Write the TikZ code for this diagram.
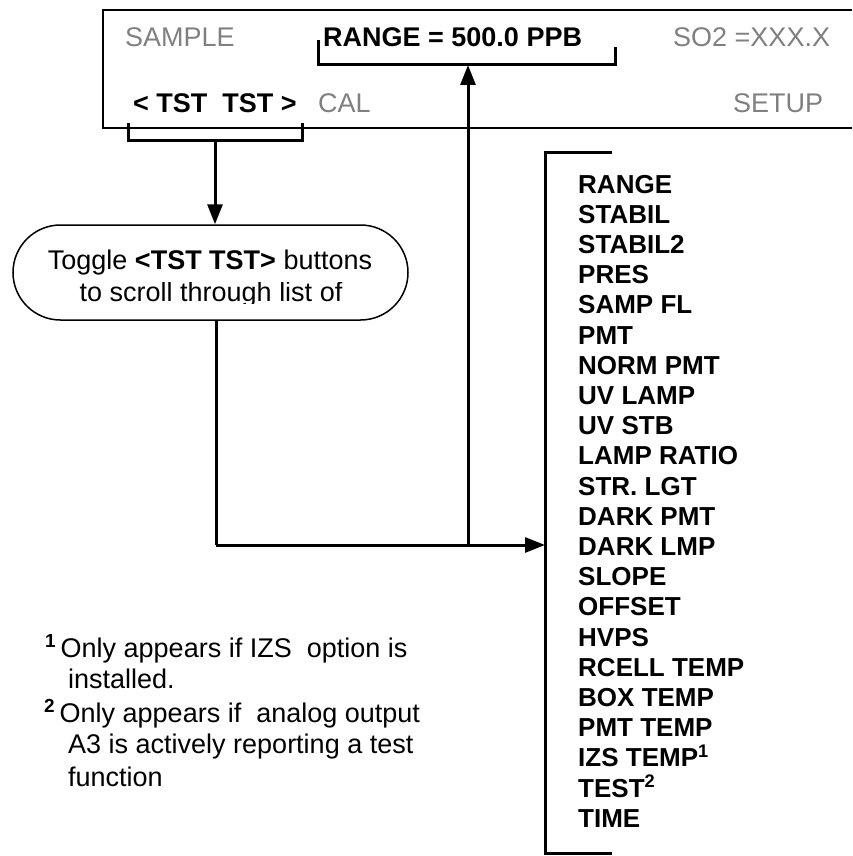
\documentclass[tikz,border=0pt]{standalone}
\usepackage{fontspec}
\setmainfont{Liberation Sans}
\usetikzlibrary{arrows.meta,shapes.misc}
\definecolor{dispgray}{rgb}{0.5,0.5,0.5}
\newcommand{\fsz}[1]{\fontsize{#1}{#1}\selectfont}
\begin{document}
\begin{tikzpicture}[x=1pt,y=-1pt,
  txt/.style={anchor=base west,inner sep=0pt,font=\fsz{27}},
  graytxt/.style={txt,text=dispgray},
  boldtxt/.style={txt,font=\fsz{27}\bfseries},
  item/.style={anchor=base west,inner sep=0pt,font=\fsz{26}\bfseries},
  foot/.style={anchor=base west,inner sep=0pt,font=\fsz{27}},
  brk/.style={line width=3pt,line cap=butt,line join=miter},
  arr/.style={line width=3pt,-{Triangle[length=20pt,width=15pt]}},
  pill/.style={draw,line width=1.5pt,rounded rectangle,minimum width=395pt,minimum height=95pt,inner sep=0pt}]
\useasboundingbox (0,0) rectangle (852,856);
% display box
\draw[line width=1.5pt] (852,10) -- (103,10) -- (103,128) -- (852,128);
\node[graytxt] (sample) at (125,47) {SAMPLE};
\node[boldtxt] (range) at (323,47) {RANGE = 500.0 PPB};
\node[graytxt] (so2) at (673,47) {SO2 =XXX.X};
\node[boldtxt] (tst) at (133,113) {<\ TST\ \ TST\ >};
\node[graytxt] (cal) at (318,113) {CAL};
\node[graytxt] (setup) at (733,113) {SETUP};
% brackets
\coordinate (rb1) at (318,40);
\coordinate (rb2) at (318,65);
\coordinate (rb3) at (615,65);
\coordinate (rb4) at (615,47);
\draw[brk] (rb1) -- (rb2) -- (rb3) -- (rb4);
\coordinate (tb1) at (128,123);
\coordinate (tb2) at (128,140);
\coordinate (tb3) at (302,140);
\coordinate (tb4) at (302,123);
\draw[brk] (tb1) -- (tb2) -- (tb3) -- (tb4);
\coordinate (tbm) at (215,140);
% toggle pill
\node[pill] (tog) at (210.5,272.5) {};
\node[anchor=base,inner sep=0pt,font=\fsz{27}] (togl1) at (210,269.5) {Toggle \textbf{<TST TST>} buttons};
\begin{scope}
\clip (20,282) rectangle (400,303);
\node[anchor=base,inner sep=0pt,font=\fsz{27}] (togl2) at (211,301.5) {to scroll through list of};
\end{scope}
\draw[arr] (tbm) -- (tbm |- tog.north);
% list bracket
\coordinate (lb1) at (612,152);
\coordinate (lb2) at (545,152);
\coordinate (lb3) at (545,853);
\coordinate (lb4) at (612,853);
\draw[brk] (lb1) -- (lb2) -- (lb3) -- (lb4);
% connectors
\coordinate (corner) at (216,545);
\coordinate (tee) at (468,545);
\coordinate (listin) at (545,545);
\draw[line width=3pt] (216,320) -- (corner);
\draw[arr] (corner) -- (listin);
\draw[arr] (tee) -- (tee |- rb2);
% list items
\foreach \t [count=\i from 0] in {RANGE,STABIL,STABIL2,PRES,SAMP FL,PMT,NORM PMT,UV LAMP,UV STB,LAMP RATIO,STR. LGT,DARK PMT,DARK LMP,SLOPE,OFFSET,HVPS,RCELL TEMP,BOX TEMP,PMT TEMP,{IZS TEMP\textsuperscript{1}},{TEST\textsuperscript{2}},TIME}
  \node[item] (li\i) at (578,{193+30.2*\i}) {\t};
% footnotes
\node[foot] (f1a) at (45,657) {\textsuperscript{\textbf{1}}\,Only appears if IZS\ \ option is};
\node[foot] (f1b) at (68,688) {installed.};
\node[foot] (f2a) at (44,722) {\textsuperscript{\textbf{2}}\,Only appears if\ \ analog output};
\node[foot] (f2b) at (68,753) {A3 is actively reporting a test};
\node[foot] (f2c) at (68,786) {function};
\end{tikzpicture}
\end{document}
